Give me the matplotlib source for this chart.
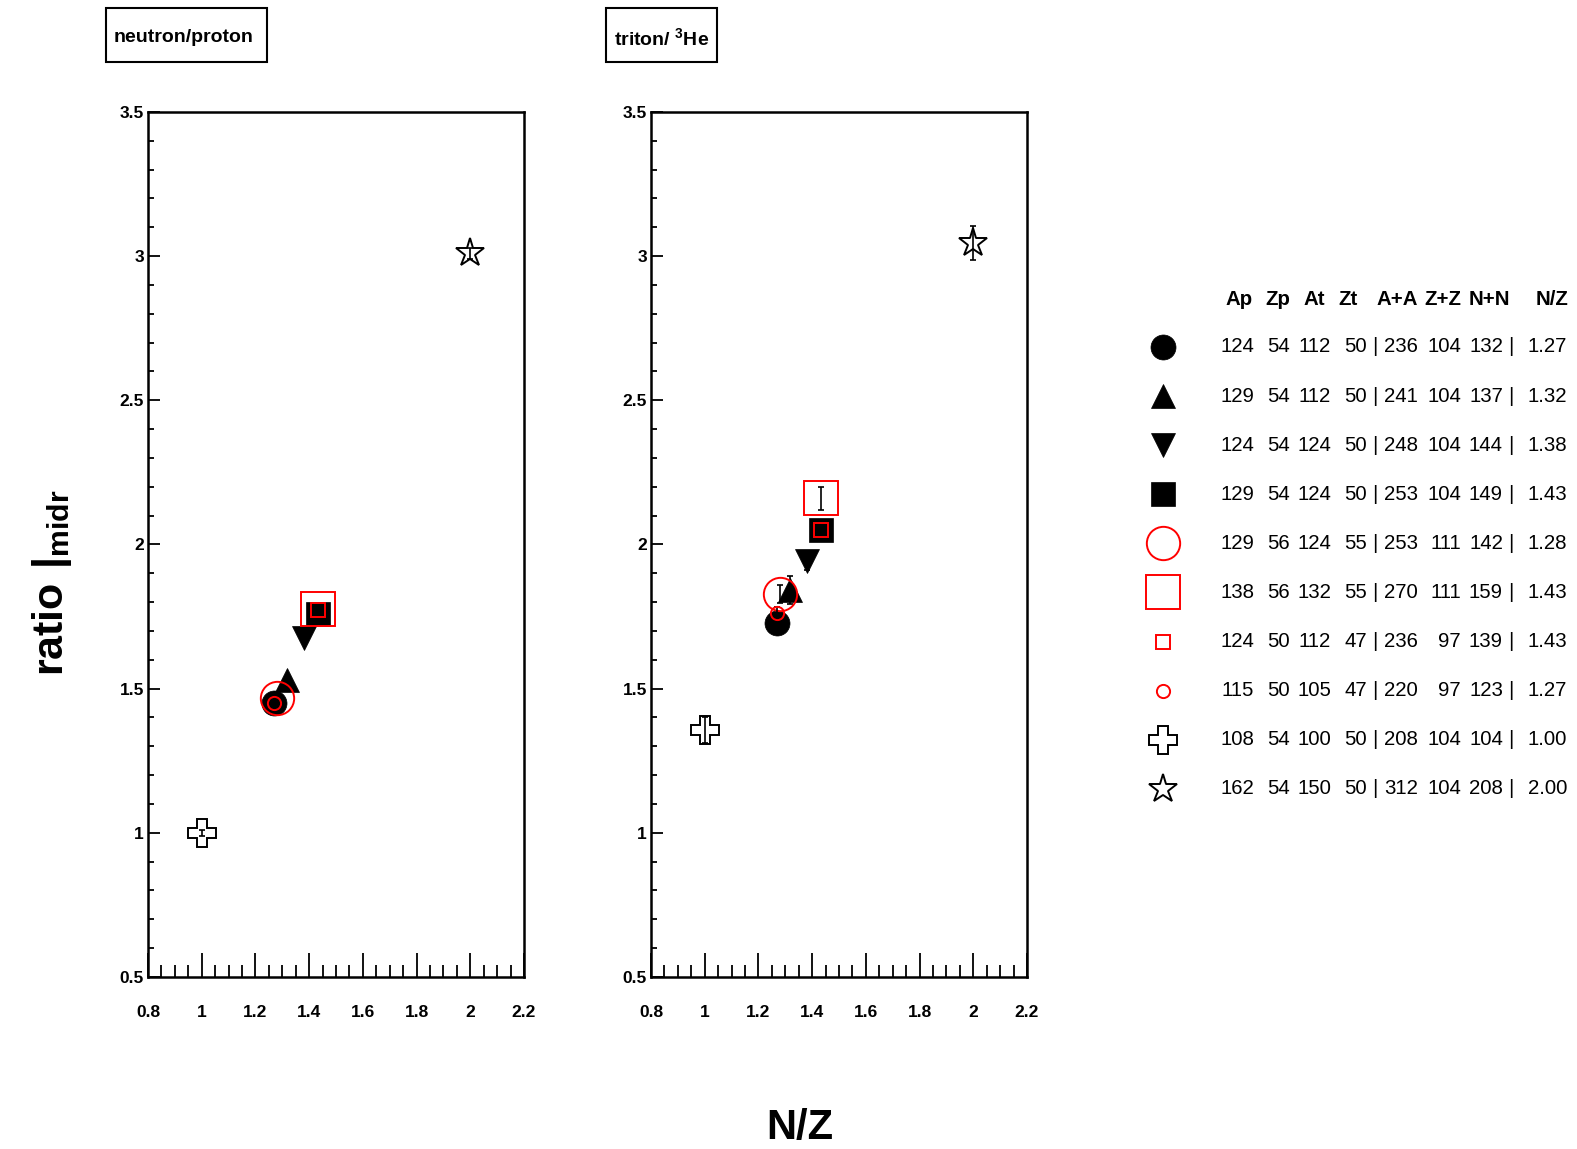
import matplotlib.pyplot as plt
from matplotlib.patches import Rectangle
from matplotlib.ticker import MultipleLocator

plt.rcParams['font.family'] = ['Liberation Sans', 'DejaVu Sans']
plt.rcParams['mathtext.fontset'] = 'custom'
plt.rcParams['mathtext.rm'] = 'Liberation Sans'
plt.rcParams['mathtext.bf'] = 'Liberation Sans:bold'

# reaction systems (legend table)
ap = [124, 129, 124, 129, 129, 138, 124, 115, 108, 162]
zp = [54, 54, 54, 54, 56, 56, 50, 50, 54, 54]
at = [112, 112, 124, 124, 124, 132, 112, 105, 100, 150]
zt = [50, 50, 50, 50, 55, 55, 47, 47, 50, 50]
aa = [236, 241, 248, 253, 253, 270, 236, 220, 208, 312]
zz = [104, 104, 104, 104, 111, 111, 97, 97, 104, 104]
nn = [132, 137, 144, 149, 142, 159, 139, 123, 104, 208]
nz_text = ['1.27', '1.32', '1.38', '1.43', '1.28', '1.43', '1.43', '1.27', '1.00', '2.00']
header = ['Ap', 'Zp', 'At', 'Zt', 'A+A', 'Z+Z', 'N+N', 'N/Z']

# x = N/Z of the system
nz = [1.269, 1.317, 1.38, 1.433, 1.279, 1.432, 1.433, 1.268, 1.0, 2.0]

# neutron/proton ratio at midrapidity
np_ratio = [1.450, 1.530, 1.676, 1.759, 1.468, 1.776, 1.773, 1.450, 0.999, 3.01]
np_err = [0.01, 0.01, 0.01, 0.01, 0.01, 0.01, 0.01, 0.01, 0.01, 0.02]

# triton/3He ratio at midrapidity
th_ratio = [1.728, 1.842, 1.943, 2.050, 1.828, 2.161, 2.050, 1.763, 1.357, 3.046]
th_err = [0.02, 0.05, 0.03, 0.02, 0.03, 0.04, 0.02, 0.02, 0.045, 0.06]

markers = ['o', '^', 'v', 's', 'o', 's', 's', 'o', 'P', '*']
colors = ['black', 'black', 'black', 'black', 'red', 'red', 'red', 'red', 'black', 'black']
filled = [True, True, True, True, False, False, False, False, False, False]
msize = [18, 17.5, 17.5, 17.5, 24, 25, 9.5, 9.5, 20, 21]

xticks = [0.8, 1.0, 1.2, 1.4, 1.6, 1.8, 2.0, 2.2]
xticklabels = ['0.8', '1', '1.2', '1.4', '1.6', '1.8', '2', '2.2']
yticks = [0.5, 1.0, 1.5, 2.0, 2.5, 3.0, 3.5]
yticklabels = ['0.5', '1', '1.5', '2', '2.5', '3', '3.5']

W, H = 1577, 1149
fig = plt.figure(figsize=(W / 100, H / 100), dpi=100)


def mstyle(i):
	if filled[i]:
		return dict(marker=markers[i], color=colors[i], markersize=msize[i],
					markeredgewidth=0.5, linestyle='none')
	return dict(marker=markers[i], color=colors[i], markersize=msize[i],
				markerfacecolor='none', markeredgewidth=1.4, linestyle='none')


def panel(left, vals, errs):
	ax = fig.add_axes([left / W, 1 - 977 / H, 376 / W, 865 / H])
	for i in range(len(nz)):
		ax.errorbar([nz[i]], [vals[i]], yerr=[errs[i]], fmt='none', ecolor='black',
					elinewidth=1.2, capsize=2.5, capthick=1.2)
		ax.plot([nz[i]], [vals[i]], **mstyle(i))
	ax.set_xlim(0.8, 2.2)
	ax.set_ylim(0.5, 3.5)
	ax.set_xticks(xticks)
	ax.set_xticklabels(xticklabels, fontweight='bold')
	ax.set_yticks(yticks)
	ax.set_yticklabels(yticklabels, fontweight='bold')
	ax.xaxis.set_minor_locator(MultipleLocator(0.05))
	ax.yaxis.set_minor_locator(MultipleLocator(0.1))
	ax.tick_params(axis='x', which='major', direction='in', length=17, width=1.3,
				   top=False, labelsize=12.5, pad=20)
	ax.tick_params(axis='x', which='minor', direction='in', length=8.6, width=1.3, top=False)
	ax.tick_params(axis='y', which='major', direction='in', length=8.6, width=1.3,
				   right=False, labelsize=12.5, pad=3)
	ax.tick_params(axis='y', which='minor', direction='in', length=4.3, width=1.3, right=False)
	for s in ax.spines.values():
		s.set_linewidth(1.8)
	return ax


panel(148, np_ratio, np_err)
panel(651, th_ratio, th_err)

# title boxes
for x0, x1, label, ty in [(106, 267, 'neutron/proton', 37), (606, 717, r'triton/ $^{\mathbf{3}}$He', 39)]:
	fig.add_artist(Rectangle((x0 / W, 1 - 62 / H), (x1 - x0) / W, 54 / H,
							 transform=fig.transFigure, fill=False, lw=1.5, color='black'))
	fig.text((x0 + 8) / W, 1 - ty / H, label, fontsize=14, fontweight='bold',
			 ha='left', va='center')

fig.text(52 / W, 1 - 583 / H, r'$\mathbf{ratio\ |_{midr}}$', rotation=90,
		 fontsize=31, ha='center', va='center')
fig.text(800 / W, 1 - 1128 / H, 'N/Z', fontsize=30, fontweight='bold',
		 ha='center', va='center')

# legend table
lax = fig.add_axes([1130 / W, 1 - 810 / H, 447 / W, 540 / H])
lax.set_xlim(1130, 1577)
lax.set_ylim(9.43, -1.568)
lax.axis('off')
hdr_x = [1239, 1278, 1314, 1348, 1397, 1443, 1489, 1552]
for hx, h in zip(hdr_x, header):
	lax.text(hx, -0.96, h, fontsize=14.7, fontweight='bold', ha='center', va='center')
col_x = [1254, 1290, 1331, 1367, 1418, 1461, 1503, 1567]
for i in range(len(ap)):
	lax.plot([1163], [i], **mstyle(i))
	cells = [str(ap[i]), str(zp[i]), str(at[i]), str(zt[i]),
			 str(aa[i]), str(zz[i]), str(nn[i]), nz_text[i]]
	for cx, c in zip(col_x, cells):
		lax.text(cx, i, c, fontsize=14.7, ha='right', va='center')
	lax.text(1375, i, '|', fontsize=14.7, ha='center', va='center')
	lax.text(1511, i, '|', fontsize=14.7, ha='center', va='center')

fig.savefig('out.png', dpi=100)
